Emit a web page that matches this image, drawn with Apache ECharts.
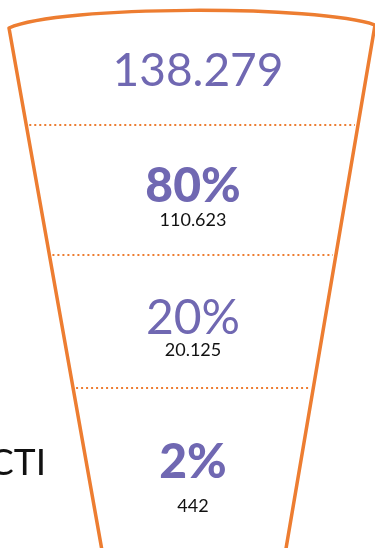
<!DOCTYPE html>
<html>
<head>
<meta charset="utf-8">
<script src="https://cdn.jsdelivr.net/npm/echarts@6/dist/echarts.min.js"></script>
<style>
html,body{margin:0;padding:0;background:#fff;}
#chart{width:375px;height:548px;}
</style>
</head>
<body>
<div id="chart"></div>
<script>
// ---- data ----
const stageNames = ['', '', '', 'CTI'];
const stageValues = [138279, 110623, 20125, 442];
const stagePercents = [null, 80, 20, 2];

// ---- layout / style (in the chart's own coordinate units) ----
const W = 375, H = 548;
const ORANGE = '#ED7D31';
const PURPLE = '#7068B2';
const FONT = 'Lato, "Open Sans", sans-serif';
const separatorsY = [125, 255, 388];
const mainLabelY = [71, 187, 319, 463];
const subLabelY = [null, 220, 350, 506];
const labelX = 193;
const pctWeight = ['400', '900', '400', '900'];

function leftX(y) { return 9 + 0.178 * (y - 28); }
function rightX(y) { return 375 - 0.17 * (y - 25); }

function fmt(v) {
  return String(v).replace(/\B(?=(\d{3})+(?!\d))/g, '.');
}

const chart = echarts.init(document.getElementById('chart'), null, {renderer: 'canvas'});

function cupRender(params, api) {
  const yBot = H + 20;
  const pts = [
    [leftX(yBot), yBot], [9, 28],
    [60, 5], [320, 5], [375, 25],
    [rightX(yBot), yBot]
  ].map(p => api.coord(p));
  const d = 'M' + pts[0].join(',') + ' L' + pts[1].join(',') +
    ' C' + pts[2].join(',') + ' ' + pts[3].join(',') + ' ' + pts[4].join(',') +
    ' L' + pts[5].join(',');
  return {
    type: 'path',
    shape: {pathData: d},
    style: {fill: 'none', stroke: ORANGE, lineWidth: 3.5, lineJoin: 'round', lineCap: 'round'}
  };
}

function stageRender(params, api) {
  const i = api.value(0);
  const children = [];
  if (i > 0) {
    const sy = separatorsY[i - 1];
    const a = api.coord([leftX(sy) + 3, sy]);
    const b = api.coord([rightX(sy) - 3, sy]);
    children.push({
      type: 'line',
      shape: {x1: a[0], y1: a[1], x2: b[0], y2: b[1]},
      style: {stroke: ORANGE, lineWidth: 2.2, lineDash: [2, 3]}
    });
  }
  const m = api.coord([i === 0 ? labelX + 5 : labelX, mainLabelY[i]]);
  if (i === 0) {
    children.push({
      type: 'text',
      style: {text: fmt(stageValues[i]), x: m[0], y: m[1], fill: PURPLE,
        font: '400 46px ' + FONT, align: 'center', verticalAlign: 'middle'}
    });
  } else {
    children.push({
      type: 'text',
      style: {text: stagePercents[i] + '%', x: m[0], y: m[1], fill: PURPLE,
        font: pctWeight[i] + ' 48px ' + FONT, align: 'center', verticalAlign: 'middle'}
    });
    const s = api.coord([labelX, subLabelY[i]]);
    children.push({
      type: 'text',
      style: {text: fmt(stageValues[i]), x: s[0], y: s[1], fill: '#111',
        font: '400 18px ' + FONT, align: 'center', verticalAlign: 'middle'}
    });
  }
  if (stageNames[i]) {
    const c = api.coord([46, mainLabelY[i]]);
    children.push({
      type: 'text',
      style: {text: stageNames[i], x: c[0], y: c[1], fill: '#111',
        font: '400 37px ' + FONT, align: 'right', verticalAlign: 'middle'}
    });
  }
  return {type: 'group', children};
}

chart.setOption({
  animation: false,
  grid: {left: 0, right: 0, top: 0, bottom: 0},
  xAxis: {type: 'value', min: 0, max: W, show: false},
  yAxis: {type: 'value', min: 0, max: H, inverse: true, show: false},
  series: [
    {
      type: 'custom', name: 'cup', renderItem: cupRender,
      data: [[0, 0]], silent: true
    },
    {
      type: 'custom', name: 'stages', renderItem: stageRender,
      data: stageValues.map((v, i) => [i, v, stagePercents[i]]),
      encode: {x: 0, y: 0}, silent: true
    }
  ]
});
</script>
</body>
</html>
